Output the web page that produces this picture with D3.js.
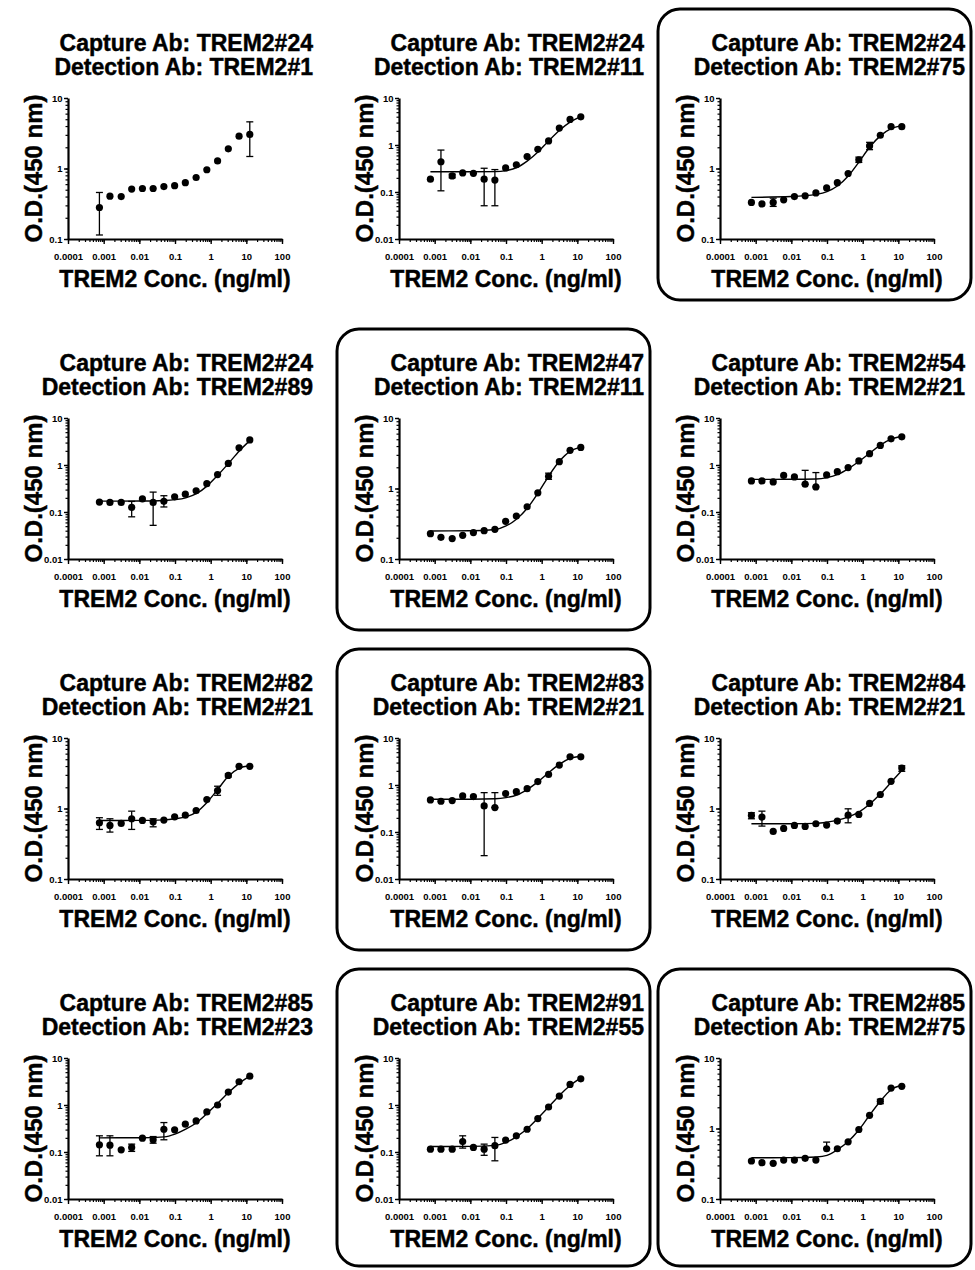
<!DOCTYPE html>
<html>
<head>
<meta charset="utf-8">
<script src="https://cdn.jsdelivr.net/npm/d3@7"></script>
<style>
  body { margin: 0; background: #fff; }
  svg text { font-family: "Liberation Sans", Arial, Helvetica, sans-serif; font-weight: bold; fill: #000; }
  svg text.big { stroke: #000; stroke-width: 0.45px; }
</style>
</head>
<body>
<div id="chart"></div>
<script>
// serial dilution of TREM2 standard (ng/ml)
const concentrations = [0.00076, 0.0015, 0.0031, 0.0061, 0.0122, 0.0244, 0.0488, 0.0977, 0.195, 0.391, 0.781, 1.5625, 3.125, 6.25, 12.5];

const captureAb = ['TREM2#24', 'TREM2#24', 'TREM2#24', 'TREM2#24', 'TREM2#47', 'TREM2#54',
                   'TREM2#82', 'TREM2#83', 'TREM2#84', 'TREM2#85', 'TREM2#91', 'TREM2#85'];
const detectionAb = ['TREM2#1', 'TREM2#11', 'TREM2#75', 'TREM2#89', 'TREM2#11', 'TREM2#21',
                     'TREM2#21', 'TREM2#21', 'TREM2#21', 'TREM2#23', 'TREM2#55', 'TREM2#75'];
// lower end of each y axis (top is always 10)
const yFloor = [0.1, 0.01, 0.1, 0.01, 0.1, 0.01, 0.1, 0.01, 0.1, 0.01, 0.01, 0.1];
// pairs that are framed in the figure
const highlighted = [false, false, true, false, true, false, false, true, false, false, true, true];

// mean O.D. per panel, one value per concentration
const odMeans = [
  [0.28, 0.405, 0.40, 0.51, 0.52, 0.52, 0.555, 0.57, 0.63, 0.745, 0.96, 1.28, 1.9, 2.87, 3.04],
  [0.187, 0.44, 0.22, 0.255, 0.25, 0.187, 0.179, 0.326, 0.38, 0.566, 0.81, 1.22, 2.29, 3.5, 3.98],
  [0.33, 0.314, 0.33, 0.36, 0.40, 0.41, 0.45, 0.53, 0.63, 0.85, 1.33, 2.09, 2.96, 3.92, 3.92],
  [0.163, 0.16, 0.16, 0.126, 0.19, 0.16, 0.169, 0.21, 0.24, 0.283, 0.40, 0.625, 1.08, 2.32, 3.42],
  [0.229, 0.203, 0.195, 0.217, 0.237, 0.252, 0.264, 0.342, 0.407, 0.551, 0.869, 1.49, 2.4, 3.48, 3.83],
  [0.458, 0.458, 0.437, 0.60, 0.557, 0.39, 0.342, 0.614, 0.72, 0.88, 1.22, 1.74, 2.61, 3.61, 3.98],
  [0.628, 0.575, 0.614, 0.715, 0.677, 0.648, 0.685, 0.762, 0.805, 0.937, 1.34, 1.8, 2.95, 3.96, 3.96],
  [0.481, 0.451, 0.466, 0.585, 0.566, 0.359, 0.331, 0.656, 0.72, 0.836, 1.18, 1.68, 2.65, 3.98, 3.98],
  [0.797, 0.755, 0.473, 0.522, 0.575, 0.557, 0.608, 0.582, 0.663, 0.805, 0.823, 1.18, 1.58, 2.43, 3.75],
  [0.142, 0.14, 0.111, 0.125, 0.197, 0.182, 0.305, 0.296, 0.39, 0.458, 0.711, 1.0, 1.88, 3.12, 4.11],
  [0.115, 0.115, 0.115, 0.167, 0.125, 0.115, 0.136, 0.179, 0.221, 0.305, 0.514, 0.907, 1.55, 2.74, 3.61],
  [0.346, 0.327, 0.321, 0.357, 0.357, 0.377, 0.357, 0.516, 0.516, 0.648, 0.968, 1.54, 2.43, 3.75, 3.96]
];

// [panel, concentration index, low, high]
const errorBars = [
  [0, 0, 0.114, 0.457], [0, 14, 1.48, 4.59],
  [1, 1, 0.106, 0.78], [1, 2, 0.2, 0.24], [1, 5, 0.051, 0.32], [1, 6, 0.051, 0.30],
  [2, 2, 0.29, 0.38], [2, 10, 1.22, 1.45], [2, 11, 1.85, 2.35],
  [3, 3, 0.079, 0.168], [3, 5, 0.052, 0.265], [3, 6, 0.128, 0.222],
  [4, 11, 1.35, 1.65],
  [5, 5, 0.39, 0.77], [5, 6, 0.342, 0.69],
  [6, 0, 0.505, 0.74], [6, 1, 0.463, 0.715], [6, 3, 0.505, 0.917], [6, 5, 0.55, 0.715], [6, 11, 1.54, 2.07], [6, 12, 2.8, 3.1],
  [7, 5, 0.0314, 0.688], [7, 6, 0.331, 0.688],
  [8, 0, 0.715, 0.87], [8, 1, 0.563, 0.917], [8, 9, 0.627, 0.99], [8, 14, 3.37, 4.04],
  [9, 0, 0.083, 0.221], [9, 1, 0.083, 0.221], [9, 3, 0.103, 0.147], [9, 5, 0.154, 0.213], [9, 6, 0.182, 0.423],
  [10, 3, 0.121, 0.221], [10, 5, 0.085, 0.147], [10, 6, 0.065, 0.204],
  [11, 7, 0.516, 0.641], [11, 12, 2.25, 2.6]
];

// fitted curves (panel 1 has none)
const curveConc = [0.00076, 0.01, 0.05, 0.1, 0.2, 0.4, 0.8, 1.56, 3.125, 6.25, 12.5];
const curveOD = [
  null,
  [0.27, 0.27, 0.272, 0.285, 0.33, 0.46, 0.72, 1.22, 2.04, 3.07, 4.0],
  [0.39, 0.40, 0.43, 0.47, 0.57, 0.79, 1.25, 2.0, 2.9, 3.67, 4.05],
  [0.17, 0.171, 0.176, 0.183, 0.2, 0.245, 0.36, 0.6, 1.07, 1.97, 3.3],
  [0.25, 0.251, 0.262, 0.294, 0.37, 0.53, 0.87, 1.49, 2.43, 3.37, 3.87],
  [0.495, 0.496, 0.505, 0.54, 0.63, 0.84, 1.2, 1.77, 2.65, 3.55, 4.1],
  [0.677, 0.678, 0.69, 0.715, 0.76, 0.89, 1.23, 1.85, 2.86, 3.71, 4.04],
  [0.497, 0.498, 0.51, 0.54, 0.61, 0.81, 1.18, 1.82, 2.74, 3.67, 4.1],
  [0.607, 0.608, 0.615, 0.64, 0.684, 0.763, 0.897, 1.15, 1.6, 2.35, 3.47],
  [0.2, 0.201, 0.21, 0.24, 0.305, 0.42, 0.666, 1.08, 1.82, 2.88, 4.1],
  [0.131, 0.132, 0.138, 0.16, 0.213, 0.315, 0.53, 0.907, 1.6, 2.6, 3.79],
  [0.385, 0.386, 0.395, 0.416, 0.505, 0.66, 0.968, 1.54, 2.43, 3.55, 4.1]
];

const xTickValues = [0.0001, 0.001, 0.01, 0.1, 1, 10, 100];
const xTickLabels = ['0.0001', '0.001', '0.01', '0.1', '1', '10', '100'];
const yTickValues = [0.01, 0.1, 1, 10];
const yTickLabels = ['0.01', '0.1', '1', '10'];

// layout
const W = 975, H = 1270;
const colAxisX = [68, 399, 720];
const rowAxisTop = [98, 418, 738, 1058];
const boxBottom = [202, 212, 212, 208];
const plotW = 214, plotH = 141;

const svg = d3.select('#chart').append('svg')
  .attr('width', W)
  .attr('height', H);

svg.append('rect').attr('width', W).attr('height', H).attr('fill', '#fff');

function styleAxis(sel, width) {
  sel.select('.domain').attr('stroke', '#000').attr('stroke-width', width);
  sel.selectAll('.tick line').attr('stroke', '#000').attr('stroke-width', 1.4);
  sel.selectAll('.tick text')
    .attr('font-family', '"Liberation Sans", Arial, sans-serif')
    .attr('font-weight', 'bold')
    .attr('font-size', '9.5px')
    .attr('fill', '#000');
}

odMeans.forEach((means, p) => {
  const col = p % 3, row = Math.floor(p / 3);
  const ox = colAxisX[col], oy = rowAxisTop[row];

  if (highlighted[p]) {
    svg.append('rect')
      .attr('x', ox - 62)
      .attr('y', oy - 89)
      .attr('width', 313)
      .attr('height', 89 + boxBottom[row])
      .attr('rx', 22)
      .attr('fill', 'none')
      .attr('stroke', '#000')
      .attr('stroke-width', 3);
  }

  const g = svg.append('g').attr('transform', `translate(${ox},${oy})`);

  const x = d3.scaleLog()
    .domain([xTickValues[0], xTickValues[xTickValues.length - 1]])
    .range([0, plotW]);
  const y = d3.scaleLog()
    .domain([yFloor[p], 10])
    .range([plotH, 0]);

  // Titles
  g.append('text')
    .attr('class', 'big')
    .attr('x', 245).attr('y', -47)
    .attr('text-anchor', 'end')
    .attr('font-size', '23px')
    .text(`Capture Ab: ${captureAb[p]}`);
  g.append('text')
    .attr('class', 'big')
    .attr('x', 245).attr('y', -23)
    .attr('text-anchor', 'end')
    .attr('font-size', '23px')
    .text(`Detection Ab: ${detectionAb[p]}`);

  // Minor ticks
  g.append('g')
    .attr('transform', `translate(0,${plotH})`)
    .call(d3.axisBottom(x).tickValues(x.ticks()).tickSize(3).tickSizeOuter(0).tickFormat(''))
    .call(s => { s.select('.domain').remove(); s.selectAll('.tick line').attr('stroke', '#000').attr('stroke-width', 1.2); });
  g.append('g')
    .call(d3.axisLeft(y).tickValues(y.ticks()).tickSize(2.5).tickSizeOuter(0).tickFormat(''))
    .call(s => { s.select('.domain').remove(); s.selectAll('.tick line').attr('stroke', '#000').attr('stroke-width', 1.2); });

  // Major axes
  const yVals = yTickValues.filter(v => v >= yFloor[p]);
  g.append('g')
    .attr('transform', `translate(0,${plotH})`)
    .call(d3.axisBottom(x)
      .tickValues(xTickValues)
      .tickSize(5).tickSizeOuter(0).tickPadding(9)
      .tickFormat((d, i) => xTickLabels[i]))
    .call(s => styleAxis(s, 2.2));
  g.append('g')
    .call(d3.axisLeft(y)
      .tickValues(yVals)
      .tickSize(4).tickSizeOuter(0).tickPadding(1.5)
      .tickFormat(d => yTickLabels[yTickValues.indexOf(d)]))
    .call(s => styleAxis(s, 2.2));

  // Axis titles
  g.append('text')
    .attr('class', 'big')
    .attr('x', plotW / 2).attr('y', plotH + 48)
    .attr('text-anchor', 'middle')
    .attr('font-size', '23px')
    .text('TREM2 Conc. (ng/ml)');
  g.append('text')
    .attr('class', 'big')
    .attr('transform', `translate(-26,${plotH / 2}) rotate(-90)`)
    .attr('text-anchor', 'middle')
    .attr('font-size', '24px')
    .text('O.D.(450 nm)');

  // Fitted curve
  if (curveOD[p]) {
    const line = d3.line()
      .x((d, i) => x(curveConc[i]))
      .y(d => y(d))
      .curve(d3.curveMonotoneX);
    g.append('path')
      .attr('d', line(curveOD[p]))
      .attr('fill', 'none')
      .attr('stroke', '#000')
      .attr('stroke-width', 1.4);
  }

  // Error bars
  const bars = errorBars.filter(e => e[0] === p);
  const eb = g.selectAll('.err').data(bars).join('g').attr('class', 'err')
    .attr('stroke', '#000').attr('stroke-width', 1.3);
  eb.append('line')
    .attr('x1', d => x(concentrations[d[1]])).attr('x2', d => x(concentrations[d[1]]))
    .attr('y1', d => y(d[2])).attr('y2', d => y(d[3]));
  eb.append('line')
    .attr('x1', d => x(concentrations[d[1]]) - 3.5).attr('x2', d => x(concentrations[d[1]]) + 3.5)
    .attr('y1', d => y(d[3])).attr('y2', d => y(d[3]));
  eb.append('line')
    .attr('x1', d => x(concentrations[d[1]]) - 3.5).attr('x2', d => x(concentrations[d[1]]) + 3.5)
    .attr('y1', d => y(d[2])).attr('y2', d => y(d[2]));

  // Points
  g.selectAll('.pt').data(means).join('circle')
    .attr('class', 'pt')
    .attr('cx', (d, i) => x(concentrations[i]))
    .attr('cy', d => y(d))
    .attr('r', 3.6)
    .attr('fill', '#000');
});
</script>
</body>
</html>
